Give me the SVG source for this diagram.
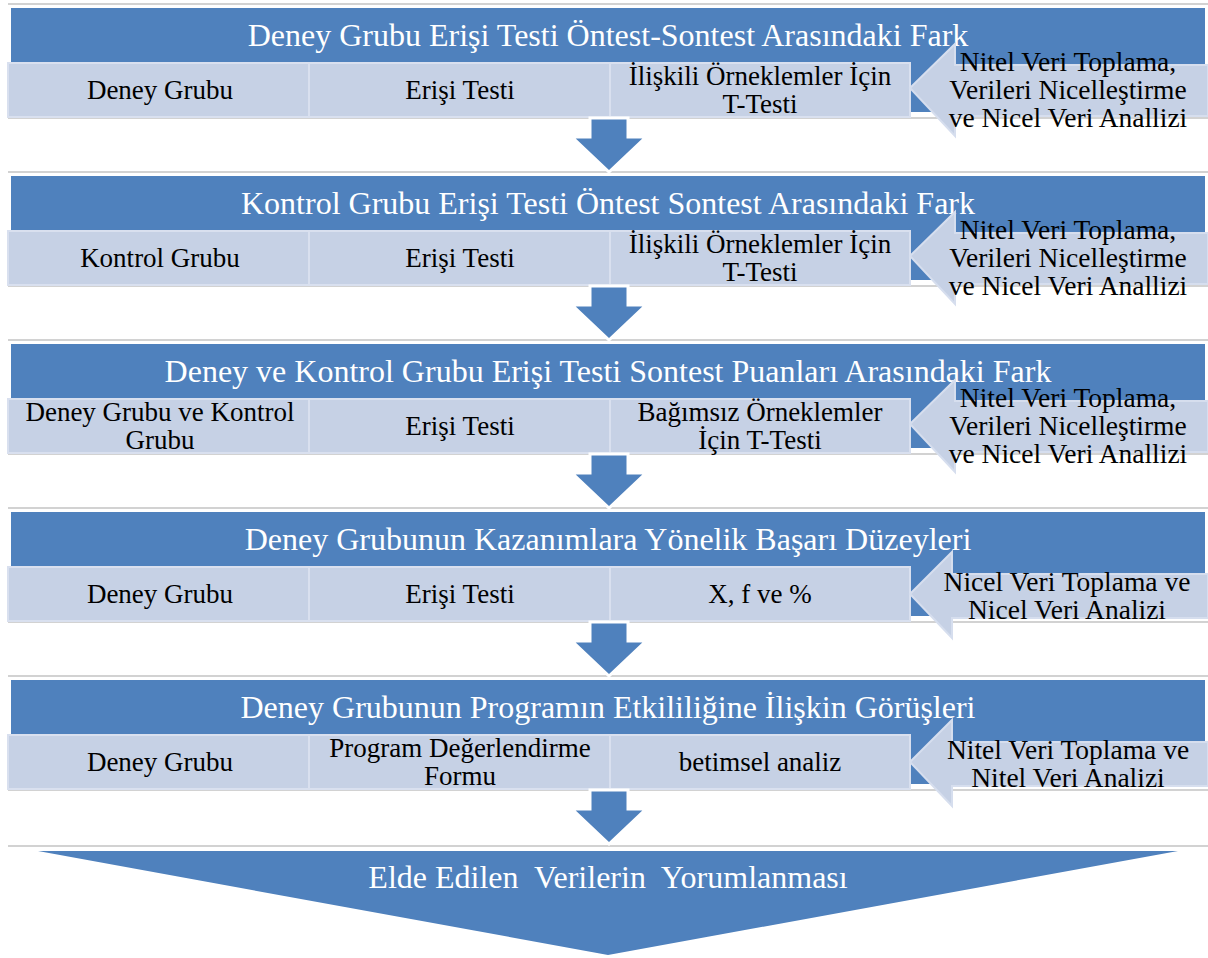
<svg xmlns="http://www.w3.org/2000/svg" width="1208" height="958" viewBox="0 0 1208 958">
<style>
.sep{stroke:#c3c3c3;stroke-width:1.5}
.hdr{fill:#4f81bd}
.box{fill:#c6d1e5;stroke:#d9e0ef;stroke-width:2}
.larr{fill:#c6d1e5;stroke:#d6deee;stroke-width:2}
.darr{fill:#4f81bd;stroke:#ffffff;stroke-width:3;stroke-linejoin:miter}
.ht{font-family:"Liberation Serif","Times New Roman",serif;font-size:32px;fill:#ffffff;text-anchor:middle}
.bt{font-family:"Liberation Serif","Times New Roman",serif;font-size:27px;fill:#000000;text-anchor:middle}
.at{font-family:"Liberation Serif","Times New Roman",serif;font-size:27.5px;fill:#000000;text-anchor:middle}
</style>
<rect width="1208" height="958" fill="#ffffff"/>

<g id="group1">
<line class="sep" x1="8" y1="4" x2="1208" y2="4"/>
<rect class="hdr" x="11" y="8" width="1194" height="104"/>
<text class="ht" x="608" y="46">Deney Grubu Erişi Testi Öntest-Sontest Arasındaki Fark</text>
<line class="sep" x1="8" y1="118" x2="1208" y2="118"/>
<rect class="box" x="8" y="63" width="301" height="54"/>
<rect class="box" x="309" y="63" width="301" height="54"/>
<rect class="box" x="610" y="63" width="300" height="54"/>
<polygon class="larr" points="910,88 955,44 955,65 1208,65 1208,116 955,116 955,136"/>
<text class="bt" x="160" y="99">Deney Grubu</text>
<text class="bt" x="460" y="99">Erişi Testi</text>
<text class="bt" x="760" y="85">İlişkili Örneklemler İçin<tspan x="760" dy="27.5">T-Testi</tspan></text>
<text class="at" x="1068" y="71">Nitel Veri Toplama,<tspan x="1068" dy="28">Verileri Nicelleştirme</tspan><tspan x="1068" dy="28">ve Nicel Veri Anallizi</tspan></text>
</g>

<g id="group2">
<line class="sep" x1="8" y1="172" x2="1208" y2="172"/>
<rect class="hdr" x="11" y="176" width="1194" height="104"/>
<text class="ht" x="608" y="214">Kontrol Grubu Erişi Testi Öntest Sontest Arasındaki Fark</text>
<line class="sep" x1="8" y1="286" x2="1208" y2="286"/>
<rect class="box" x="8" y="231" width="301" height="54"/>
<rect class="box" x="309" y="231" width="301" height="54"/>
<rect class="box" x="610" y="231" width="300" height="54"/>
<polygon class="larr" points="910,256 955,212 955,233 1208,233 1208,284 955,284 955,304"/>
<text class="bt" x="160" y="267">Kontrol Grubu</text>
<text class="bt" x="460" y="267">Erişi Testi</text>
<text class="bt" x="760" y="253">İlişkili Örneklemler İçin<tspan x="760" dy="27.5">T-Testi</tspan></text>
<text class="at" x="1068" y="239">Nitel Veri Toplama,<tspan x="1068" dy="28">Verileri Nicelleştirme</tspan><tspan x="1068" dy="28">ve Nicel Veri Anallizi</tspan></text>
</g>

<g id="group3">
<line class="sep" x1="8" y1="340" x2="1208" y2="340"/>
<rect class="hdr" x="11" y="344" width="1194" height="104"/>
<text class="ht" x="608" y="382">Deney ve Kontrol Grubu Erişi Testi Sontest Puanları Arasındaki Fark</text>
<line class="sep" x1="8" y1="454" x2="1208" y2="454"/>
<rect class="box" x="8" y="399" width="301" height="54"/>
<rect class="box" x="309" y="399" width="301" height="54"/>
<rect class="box" x="610" y="399" width="300" height="54"/>
<polygon class="larr" points="910,424 955,380 955,401 1208,401 1208,452 955,452 955,472"/>
<text class="bt" x="160" y="421">Deney Grubu ve Kontrol<tspan x="160" dy="27.5">Grubu</tspan></text>
<text class="bt" x="460" y="435">Erişi Testi</text>
<text class="bt" x="760" y="421">Bağımsız Örneklemler<tspan x="760" dy="27.5">İçin T-Testi</tspan></text>
<text class="at" x="1068" y="407">Nitel Veri Toplama,<tspan x="1068" dy="28">Verileri Nicelleştirme</tspan><tspan x="1068" dy="28">ve Nicel Veri Anallizi</tspan></text>
</g>

<g id="group4">
<line class="sep" x1="8" y1="508" x2="1208" y2="508"/>
<rect class="hdr" x="11" y="512" width="1194" height="104"/>
<text class="ht" x="608" y="550">Deney Grubunun Kazanımlara Yönelik Başarı Düzeyleri</text>
<line class="sep" x1="8" y1="622" x2="1208" y2="622"/>
<rect class="box" x="8" y="567" width="301" height="54"/>
<rect class="box" x="309" y="567" width="301" height="54"/>
<rect class="box" x="610" y="567" width="300" height="54"/>
<polygon class="larr" points="910,594 952,552 952,574 1208,574 1208,618 952,618 952,638"/>
<text class="bt" x="160" y="603">Deney Grubu</text>
<text class="bt" x="460" y="603">Erişi Testi</text>
<text class="bt" x="760" y="603">X, f ve %</text>
<text class="at" x="1067" y="591">Nicel Veri Toplama ve<tspan x="1067" dy="28">Nicel Veri Analizi</tspan></text>
</g>

<g id="group5">
<line class="sep" x1="8" y1="676" x2="1208" y2="676"/>
<rect class="hdr" x="11" y="680" width="1194" height="104"/>
<text class="ht" x="608" y="718">Deney Grubunun Programın Etkililiğine İlişkin Görüşleri</text>
<line class="sep" x1="8" y1="790" x2="1208" y2="790"/>
<rect class="box" x="8" y="735" width="301" height="54"/>
<rect class="box" x="309" y="735" width="301" height="54"/>
<rect class="box" x="610" y="735" width="300" height="54"/>
<polygon class="larr" points="910,762 952,720 952,742 1208,742 1208,786 952,786 952,806"/>
<text class="bt" x="160" y="771">Deney Grubu</text>
<text class="bt" x="460" y="757">Program Değerlendirme<tspan x="460" dy="27.5">Formu</tspan></text>
<text class="bt" x="760" y="771">betimsel analiz</text>
<text class="at" x="1068" y="759">Nitel Veri Toplama ve<tspan x="1068" dy="28">Nitel Veri Analizi</tspan></text>
</g>

<g id="final">
<line class="sep" x1="8" y1="846" x2="1208" y2="846"/>
<polygon class="hdr" points="38,851 1178,851 608,955"/>
<text class="ht" x="608" y="888" xml:space="preserve">Elde Edilen  Verilerin  Yorumlanması</text>
</g>

<g id="connectors">
<polygon class="darr" points="590,118 628,118 628,137 646,137 609,172 572,137 590,137"/>
<polygon class="darr" points="590,286 628,286 628,305 646,305 609,340 572,305 590,305"/>
<polygon class="darr" points="590,454 628,454 628,473 646,473 609,508 572,473 590,473"/>
<polygon class="darr" points="590,622 628,622 628,641 646,641 609,676 572,641 590,641"/>
<polygon class="darr" points="590,790 628,790 628,809 646,809 609,844 572,809 590,809"/>
</g>
</svg>
